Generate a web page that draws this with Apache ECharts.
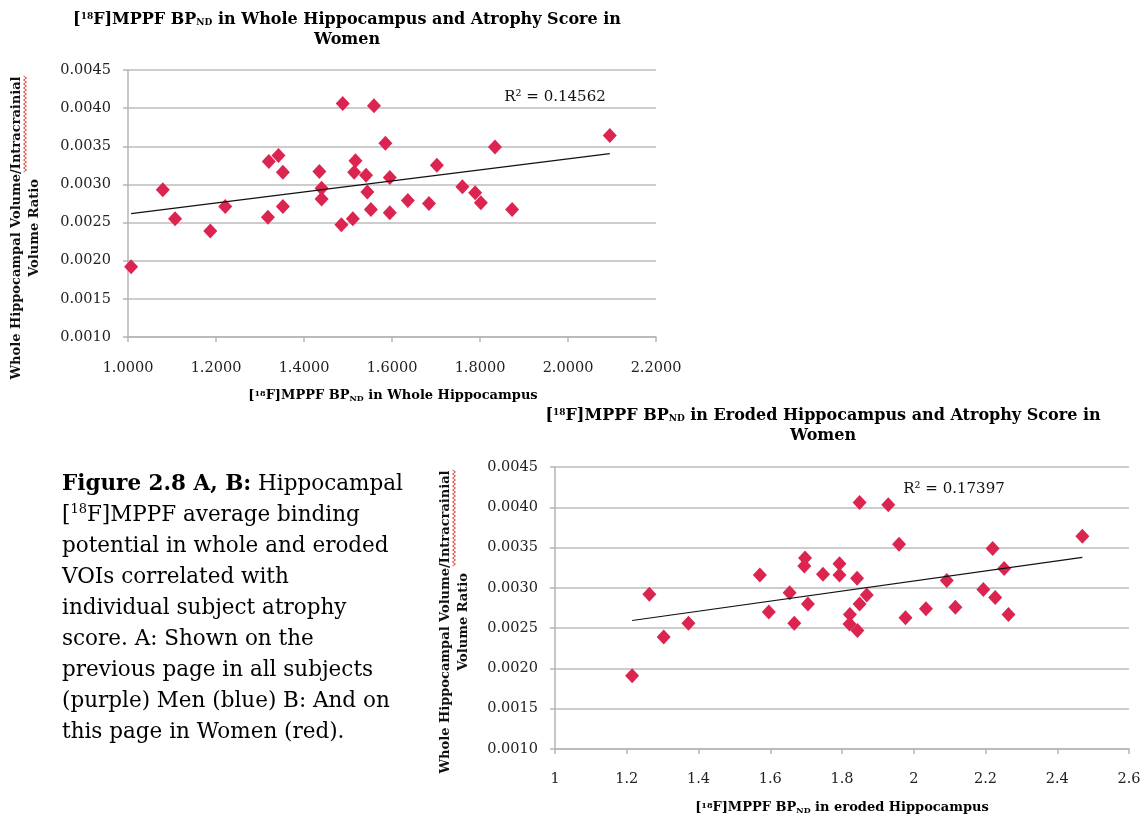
<!DOCTYPE html>
<html><head><meta charset="utf-8">
<script src="https://cdn.jsdelivr.net/npm/echarts@6/dist/echarts.min.js"></script>
<style>html,body{margin:0;padding:0;background:#fff;}#c{width:1146px;height:818px;}</style>
</head><body><div id="c"></div>
<script>
// ---- data ----
const wholeBP = [1.007,1.079,1.107,1.187,1.221,1.318,1.320,1.342,1.352,1.352,1.435,1.440,1.440,1.488,1.485,1.511,1.514,1.517,1.541,1.544,1.552,1.559,1.585,1.595,1.595,1.636,1.684,1.702,1.760,1.789,1.802,1.834,1.873,2.095];
const wholeRatio = [0.00192,0.00293,0.00255,0.00239,0.00271,0.00257,0.00330,0.00338,0.00316,0.00271,0.00317,0.00295,0.00281,0.00406,0.00247,0.00255,0.00316,0.00331,0.00312,0.00290,0.00267,0.00403,0.00354,0.00309,0.00263,0.00279,0.00275,0.00325,0.00297,0.00289,0.00276,0.00349,0.00267,0.00364];
const erodedBP = [1.215,1.263,1.303,1.372,1.571,1.596,1.654,1.667,1.697,1.695,1.705,1.747,1.793,1.793,1.849,1.842,1.822,1.821,1.843,1.849,1.869,1.929,1.959,1.977,2.034,2.092,2.116,2.194,2.220,2.227,2.252,2.264,2.470];
const erodedRatio = [0.00191,0.00292,0.00239,0.00256,0.00316,0.00270,0.00294,0.00256,0.00337,0.00327,0.00280,0.00317,0.00330,0.00316,0.00406,0.00312,0.00267,0.00255,0.00247,0.00280,0.00291,0.00403,0.00354,0.00263,0.00274,0.00309,0.00276,0.00298,0.00349,0.00288,0.00324,0.00267,0.00364];
const r2Labels = ['R\u00b2 = 0.14562', 'R\u00b2 = 0.17397'];
const yTicks = {min:0.0010, max:0.0045, step:0.0005};
const xTicksA = {min:1.0, max:2.2, step:0.2};
const xTicksB = {min:1.0, max:2.6, step:0.2};

function pairs(xs, ys){ return xs.map((x,i)=>[x, ys[i]]); }
function fit(xs, ys){
  const n=xs.length; let sx=0,sy=0,sxx=0,sxy=0;
  for(let i=0;i<n;i++){sx+=xs[i];sy+=ys[i];sxx+=xs[i]*xs[i];sxy+=xs[i]*ys[i];}
  const b=(n*sxy-sx*sy)/(n*sxx-sx*sx), a=(sy-b*sx)/n;
  const x0=Math.min(...xs), x1=Math.max(...xs);
  return [[x0,a+b*x0],[x1,a+b*x1]];
}

const SERIF = '"DejaVu Serif", "Liberation Serif", serif';
const RED = '#DC2450';
const chart = echarts.init(document.getElementById('c'));

const richStyles = {
  n:{fontFamily:SERIF,fontWeight:'bold',fontSize:16,color:'#111',lineHeight:20},
  sup:{fontFamily:SERIF,fontWeight:'bold',fontSize:9,color:'#111',lineHeight:20,padding:[0,0,6,0]},
  sub:{fontFamily:SERIF,fontWeight:'bold',fontSize:9,color:'#111',lineHeight:20,padding:[6,0,0,0]},
  an:{fontFamily:SERIF,fontWeight:'bold',fontSize:13,color:'#111',lineHeight:16},
  asup:{fontFamily:SERIF,fontWeight:'bold',fontSize:8,color:'#111',lineHeight:16,padding:[0,0,5,0]},
  asub:{fontFamily:SERIF,fontWeight:'bold',fontSize:8,color:'#111',lineHeight:16,padding:[5,0,0,0]}
};

function zigzag(x, y0, y1){
  const pts=[]; let k=0;
  for(let y=y0;y<=y1;y+=2){ pts.push([x+(k%2?1.5:-1.5), y]); k++; }
  return {type:'polyline', silent:true, shape:{points:pts}, style:{stroke:'#e0403a',lineWidth:1,fill:null}};
}

function yAxisCfg(idx){
  return {type:'value', gridIndex:idx, min:yTicks.min, max:yTicks.max, interval:yTicks.step,
    axisLine:{show:true,lineStyle:{color:'#b5b5b5',width:1.5}},
    axisTick:{show:true,length:5,lineStyle:{color:'#b5b5b5',width:1.5}},
    splitLine:{show:true,lineStyle:{color:'#bdbdbd',width:1.5}},
    axisLabel:{fontFamily:SERIF,fontSize:14.5,color:'#222',margin:17,formatter:v=>v.toFixed(4)}};
}
function xAxisCfg(idx, t, fmt, margin){
  return {type:'value', gridIndex:idx, min:t.min, max:t.max, interval:t.step,
    axisLine:{show:true,onZero:false,lineStyle:{color:'#b5b5b5',width:1.5}},
    axisTick:{show:true,length:5,lineStyle:{color:'#b5b5b5',width:1.5}},
    splitLine:{show:false},
    axisLabel:{fontFamily:SERIF,fontSize:14.5,color:'#222',margin:margin,formatter:fmt}};
}

const fitA = fit(wholeBP, wholeRatio), fitB = fit(erodedBP, erodedRatio);
const cap = '"DejaVu Serif", serif';

chart.setOption({
  animation:false,
  grid:[{left:128,top:70,width:528,height:267},{left:555,top:467,width:574,height:282}],
  xAxis:[xAxisCfg(0,xTicksA,v=>v.toFixed(4),24), xAxisCfg(1,xTicksB,v=>String(parseFloat(v.toFixed(1))),23)],
  yAxis:[yAxisCfg(0), yAxisCfg(1)],
  series:[
    {type:'scatter',xAxisIndex:0,yAxisIndex:0,data:pairs(wholeBP,wholeRatio),symbol:'diamond',symbolSize:[14,15],itemStyle:{color:RED,opacity:1}},
    {type:'line',xAxisIndex:0,yAxisIndex:0,data:fitA,showSymbol:false,lineStyle:{color:'#111',width:1.2}},
    {type:'scatter',xAxisIndex:1,yAxisIndex:1,data:pairs(erodedBP,erodedRatio),symbol:'diamond',symbolSize:[14,15],itemStyle:{color:RED,opacity:1}},
    {type:'line',xAxisIndex:1,yAxisIndex:1,data:fitB,showSymbol:false,lineStyle:{color:'#111',width:1.2}}
  ],
  graphic:[
    {type:'text',x:347,y:30,style:{align:'center',verticalAlign:'middle',
      text:'{n|[}{sup|18}{n|F]MPPF BP}{sub|ND}{n| in Whole Hippocampus and Atrophy Score in}\n{n|Women}',rich:richStyles}},
    {type:'text',x:823,y:426,style:{align:'center',verticalAlign:'middle',
      text:'{n|[}{sup|18}{n|F]MPPF BP}{sub|ND}{n| in Eroded Hippocampus and Atrophy Score in}\n{n|Women}',rich:richStyles}},
    {type:'text',x:393,y:396,style:{align:'center',verticalAlign:'middle',
      text:'{an|[}{asup|18}{an|F]MPPF BP}{asub|ND}{an| in Whole Hippocampus}',rich:richStyles}},
    {type:'text',x:842,y:808,style:{align:'center',verticalAlign:'middle',
      text:'{an|[}{asup|18}{an|F]MPPF BP}{asub|ND}{an| in eroded Hippocampus}',rich:richStyles}},
    {type:'text',x:26,y:228,rotation:Math.PI/2,style:{align:'center',verticalAlign:'middle',
      text:'Whole Hippocampal Volume/Intracrainial\nVolume Ratio',font:'bold 13px '+SERIF,fill:'#111',lineHeight:18}},
    {type:'text',x:455,y:622,rotation:Math.PI/2,style:{align:'center',verticalAlign:'middle',
      text:'Whole Hippocampal Volume/Intracrainial\nVolume Ratio',font:'bold 13px '+SERIF,fill:'#111',lineHeight:18}},
    zigzag(25,76,172), zigzag(454,470,566),
    {type:'text',x:555,y:97,style:{align:'center',verticalAlign:'middle',text:r2Labels[0],font:'15px '+SERIF,fill:'#111'}},
    {type:'text',x:954,y:489,style:{align:'center',verticalAlign:'middle',text:r2Labels[1],font:'15px '+SERIF,fill:'#111'}},
    {type:'text',left:62,top:473,style:{
      text:'{b|Figure 2.8 A, B:}{c| Hippocampal}\n{c|[}{s|18}{c|F]MPPF average binding}\n{c|potential in whole and eroded}\n{c|VOIs correlated with}\n{c|individual subject atrophy}\n{c|score. A: Shown on the}\n{c|previous page in all subjects}\n{c|(purple) Men (blue) B: And on}\n{c|this page in Women (red).}',
      rich:{
        b:{fontFamily:cap,fontWeight:'bold',fontSize:21.5,color:'#111',lineHeight:31},
        c:{fontFamily:cap,fontSize:21.5,color:'#111',lineHeight:31},
        s:{fontFamily:cap,fontSize:13,color:'#111',lineHeight:31,padding:[0,0,10,0]}
      }}}
  ]
});
</script></body></html>
